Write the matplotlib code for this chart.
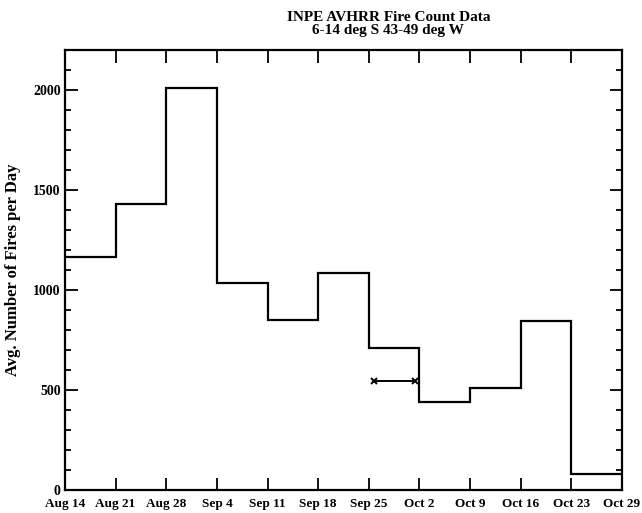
import matplotlib
matplotlib.use("Agg")
import matplotlib.pyplot as plt
from matplotlib.ticker import MultipleLocator

# weekly bins, Aug 14 .. Oct 29
week_labels = ["Aug 14", "Aug 21", "Aug 28", "Sep 4", "Sep 11", "Sep 18",
               "Sep 25", "Oct 2", "Oct 9", "Oct 16", "Oct 23", "Oct 29"]
fires_per_day = [1165, 1430, 2010, 1035, 850, 1085, 710, 440, 510, 845, 78]

# short reference segment with x markers
ref_x = [6.1, 6.92]
ref_y = [542, 542]

plt.rcParams['font.family'] = ['Liberation Serif', 'DejaVu Serif']
plt.rcParams['font.weight'] = 'bold'

fig = plt.figure(figsize=(6.42, 5.13), dpi=100)
ax = fig.add_axes([0.1012, 0.0448, 0.8677, 0.8587])

edges = list(range(len(fires_per_day) + 1))
ax.stairs(fires_per_day, edges, color='black', linewidth=1.6, baseline=None)
ax.plot(ref_x, ref_y, color='black', linewidth=1.4, marker='x',
        markersize=5, markeredgewidth=1.4)

ax.set_xlim(0, 11)
ax.set_ylim(0, 2200)
ax.set_xticks(range(len(week_labels)))
ax.set_xticklabels(week_labels, fontsize=9.5, fontweight='bold')
ax.yaxis.set_major_locator(MultipleLocator(500))
ax.yaxis.set_minor_locator(MultipleLocator(100))
for t in ax.get_yticklabels():
    t.set_fontsize(10)
    t.set_fontweight('bold')

ax.tick_params(which='both', direction='in', top=True, right=True,
               width=1.3, color='black')
ax.tick_params(which='major', length=9, pad=3)
ax.tick_params(which='minor', length=4.5)
ax.tick_params(axis='x', pad=6)
# lift the zero label a touch so it clears the first date
ax.get_yticklabels()[0].set_va('bottom')
for s in ax.spines.values():
    s.set_linewidth(1.6)

ax.set_ylabel("Avg. Number of Fires per Day", fontsize=12,
              fontweight='bold', labelpad=9)

fig.text(0.605, 0.978, "INPE AVHRR Fire Count Data", ha='center', va='top',
         fontsize=11, fontweight='bold')
fig.text(0.605, 0.953, "6-14 deg S 43-49 deg W", ha='center', va='top',
         fontsize=11, fontweight='bold')

fig.savefig("out.png", dpi=100)
